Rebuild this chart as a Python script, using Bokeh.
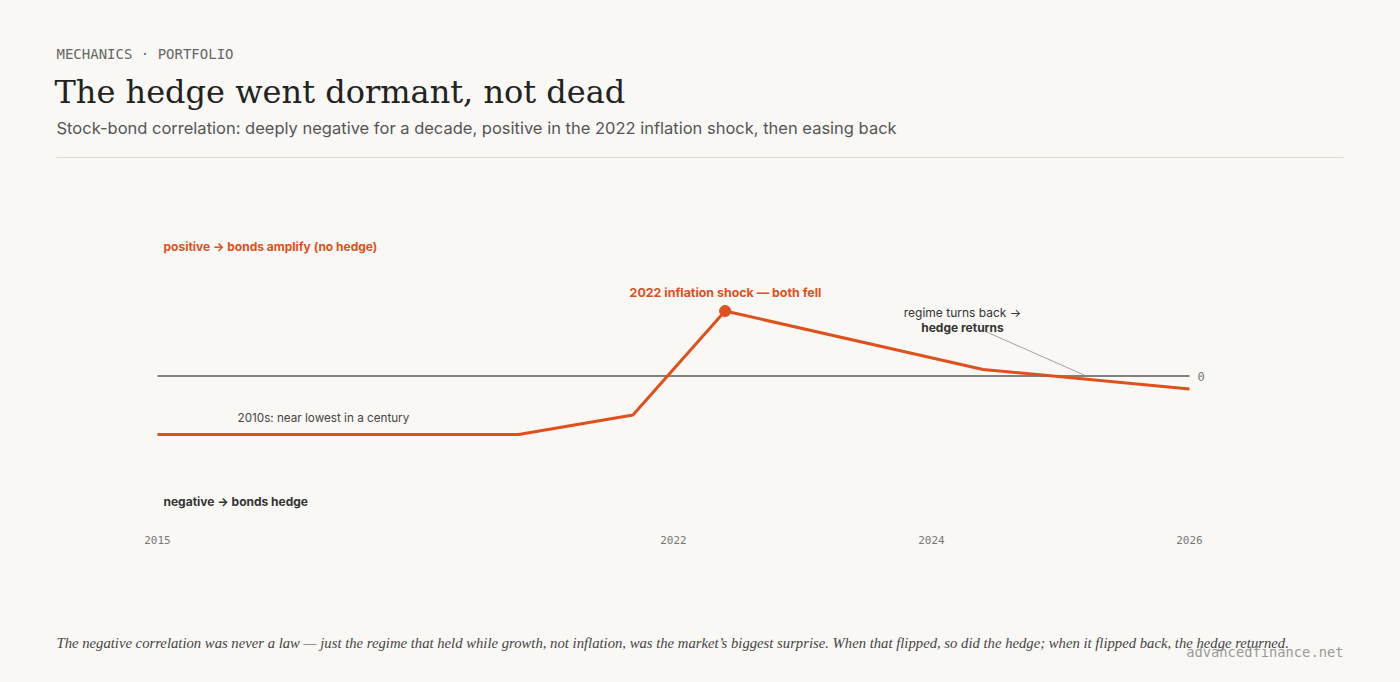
from bokeh.plotting import figure
from bokeh.layouts import column
from bokeh.models import Range1d, FixedTicker, Label
from bokeh.embed import file_html
from bokeh.resources import INLINE
import numpy as np

# ---- data ----
years = [2015, 2019.9, 2021.45, 2022.4, 2024.4, 2026]
corr = [-0.45, -0.45, -0.30, 0.50, 0.05, -0.10]
tick_years = [2015, 2022, 2024, 2026]
tick_labels = ["2015", "2022", "2024", "2026"]
zero_label = "0"
# broken (piecewise) time scale of the original axis
scale_years = [2015, 2022, 2024, 2026]
scale_pos = [0, 2, 3, 4]
leader_anchor_year = 2025.2

def pos(y):
    return np.interp(y, scale_years, scale_pos)

BG = "#f9f8f5"
ORANGE = "#e0501c"
DARK = "#333333"
SANS = "Inter"
W = 1400

def base_fig(h, xr, yr, **kw):
    f = figure(width=W, height=h, x_range=xr, y_range=yr,
               output_backend="svg", toolbar_location=None,
               y_axis_location=None, styles={"background-color": BG},
               background_fill_color=BG, border_fill_color=BG, outline_line_color=None, **kw)
    f.grid.grid_line_color = None
    return f

def add_label(fig, text, x, y, size, color, font=SANS, style="normal", align="left", x_offset=0):
    fig.add_layout(Label(x=x, y=y, text=text, text_font=font, text_font_size=size,
                         text_color=color, text_font_style=style, text_align=align,
                         text_baseline="middle", x_offset=x_offset))

# ---------- header ----------
HH = 215
hd = base_fig(HH, Range1d(0, W), Range1d(HH, 0), min_border=0, x_axis_location=None)
add_label(hd, "MECHANICS \u00b7 PORTFOLIO", 56, 53, "14px", "#666666", font="DejaVu Sans Mono")
add_label(hd, "The hedge went dormant, not dead", 54, 91, "32px", "#222222", font="DejaVu Serif")
add_label(hd, "Stock-bond correlation: deeply negative for a decade, positive in the 2022 inflation shock, then easing back",
          56, 127, "16.5px", "#555555")
hd.segment(x0=[56], y0=[157], x1=[1343], y1=[157], line_color="#dddad4", line_width=1)

# ---------- main chart ----------
TOP = HH
MH = 360
FB = 60
FL = 157
XU = 258.0
YU = 130.0
ZERO_PX = 375.5
y_hi = (ZERO_PX - TOP) / YU
y_lo = (ZERO_PX - (TOP + MH - FB)) / YU

p = base_fig(MH, Range1d(-FL / XU, (W - FL) / XU), Range1d(y_lo, y_hi),
             min_border_left=0, min_border_right=0, min_border_top=0, min_border_bottom=FB)

xa = p.xaxis[0]
xa.ticker = FixedTicker(ticks=[float(pos(y)) for y in tick_years])
xa.major_label_overrides = {int(round(float(pos(y)))): l for y, l in zip(tick_years, tick_labels)}
xa.axis_line_color = None
xa.major_tick_line_color = None
xa.minor_tick_line_color = None
xa.major_tick_out = 0
xa.major_tick_in = 0
xa.major_label_standoff = 20
xa.major_label_text_font = "DejaVu Sans Mono"
xa.major_label_text_font_size = "11px"
xa.major_label_text_color = "#777777"

xs = pos(years)
# zero reference line across the data extent
p.segment(x0=[xs[0]], y0=[0], x1=[xs[-1]], y1=[0], line_color="#5a5a5a", line_width=1.5)
add_label(p, zero_label, xs[-1], 0, "12px", "#777777", font="DejaVu Sans Mono", x_offset=8)

p.line(xs, corr, line_color=ORANGE, line_width=3)
ipk = int(np.argmax(corr))
p.scatter([xs[ipk]], [corr[ipk]], size=11, color=ORANGE)

def dx(px):
    return (px - FL) / XU

def dy(py):
    return (ZERO_PX - py) / YU

p.segment(x0=[dx(985)], y0=[dy(331)], x1=[float(pos(leader_anchor_year))], y1=[0],
          line_color="#8a8a8a", line_width=0.8)

def lab(text, px, py, size, color, style="normal", align="left"):
    add_label(p, text, dx(px), dy(py), size, color, style=style, align=align)

lab("positive \u2192 bonds amplify (no hedge)", 163, 246, "12px", ORANGE, style="bold")
lab("negative \u2192 bonds hedge", 163, 501, "12px", DARK, style="bold")
lab("2010s: near lowest in a century", 237, 417, "11.7px", "#444444")
lab("2022 inflation shock \u2014 both fell", 725, 292, "12.4px", ORANGE, style="bold", align="center")
lab("regime turns back \u2192", 962, 312, "12px", DARK, align="center")
lab("hedge returns", 962, 327, "12px", DARK, style="bold", align="center")

# ---------- footer ----------
FT0 = TOP + MH
FH = 682 - FT0
ft = base_fig(FH, Range1d(0, W), Range1d(682, FT0), min_border=0, x_axis_location=None)
add_label(ft, "The negative correlation was never a law \u2014 just the regime that held while growth, not inflation, was the market\u2019s biggest surprise. When that flipped, so did the hedge; when it flipped back, the hedge returned.",
          56, 642, "14.7px", "#444444", font="Liberation Serif", style="italic")
add_label(ft, "advancedfinance.net", 1343, 651, "13.75px", "#999999", font="DejaVu Sans Mono", align="right")

layout = column(hd, p, ft, spacing=0, styles={"background-color": BG})
html = file_html(layout, INLINE)
html = html.replace("<body>", '<body style="margin:0;background:%s;">' % BG, 1)
open("out.html", "w").write(html)
